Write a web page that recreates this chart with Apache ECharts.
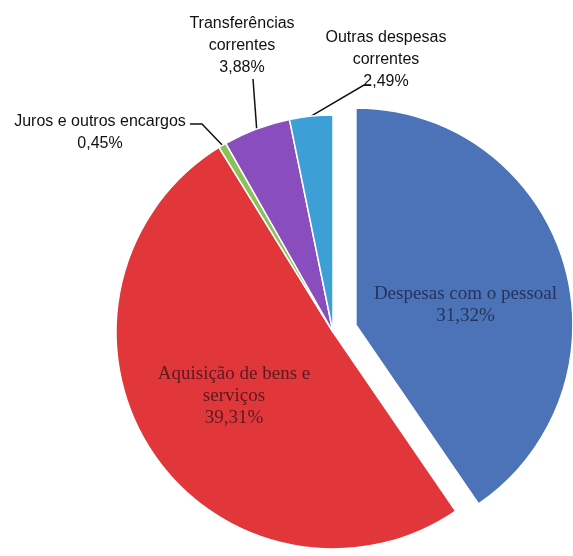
<!DOCTYPE html>
<html>
<head>
<meta charset="utf-8">
<script src="https://cdn.jsdelivr.net/npm/echarts@6/dist/echarts.min.js"></script>
<style>
  html, body { margin: 0; padding: 0; background: #fff; }
  #chart { width: 573px; height: 556px; }
</style>
</head>
<body>
<div id="chart"></div>
<script>
// categorias (com as quebras de linha do rótulo) e percentagens
const categories = [
  'Despesas com o pessoal',
  'Aquisição de bens e\nserviços',
  'Juros e outros encargos',
  'Transferências\ncorrentes',
  'Outras despesas\ncorrentes'
];
const values = [31.32, 39.31, 0.45, 3.88, 2.49];
const colors = ['#4c72b7', '#e1373b', '#8cc05a', '#8a4dbd', '#3c9fd6'];

// posição dos rótulos (x, y do centro do bloco) e pontos da linha de ligação
const labelPos = [
  null,
  { x: 234, y: 396 },
  { x: 100, y: 133, line: [[202, 124], [190, 124]] },
  { x: 242, y: 46, line: [[253, 79]] },
  { x: 386, y: 60, line: [[364, 85], [371, 85]] }
];

const fmt = v => v.toFixed(2).replace('.', ',') + '%';

const myChart = echarts.init(document.getElementById('chart'));

const insideLabel = (color) => ({
  position: 'inside',
  color: color,
  fontFamily: 'Liberation Serif',
  fontSize: 19,
  lineHeight: 22
});
const outsideLabel = {
  position: 'outside',
  color: '#111',
  fontFamily: 'Liberation Sans Narrow, Liberation Sans',
  fontSize: 16,
  lineHeight: 22
};

const data = categories.map((name, i) => {
  const item = { name: name, value: values[i], itemStyle: { color: colors[i] } };
  if (i === 0) {
    // fatia destacada: rótulo deslocado para baixo
    item.selected = true;
    item.label = Object.assign(insideLabel('#23345f'), { offset: [3, 13] });
    item.select = { label: { offset: [3, 13] } };
    item.labelLine = { show: false };
  } else if (i === 1) {
    item.label = insideLabel('#5a1a1f');
    item.labelLine = { show: false };
  } else {
    item.label = outsideLabel;
    item.labelLine = { show: true, lineStyle: { color: '#111', width: 1.5 } };
  }
  return item;
});

myChart.setOption({
  backgroundColor: '#fff',
  animation: false,
  series: [{
    type: 'pie',
    center: [333, 332],
    radius: 217,
    startAngle: 90,
    clockwise: true,
    selectedMode: 'single',
    selectedOffset: 24,
    avoidLabelOverlap: false,
    itemStyle: { borderColor: '#fff', borderWidth: 1.5 },
    emphasis: { disabled: true },
    label: {
      formatter: p => p.name + '\n' + fmt(p.value)
    },
    labelLayout: function (params) {
      const pos = labelPos[params.dataIndex];
      if (!pos) return {};
      const out = { x: pos.x, y: pos.y, align: 'center', verticalAlign: 'middle' };
      if (pos.line && params.labelLinePoints) {
        out.labelLinePoints = [params.labelLinePoints[0]].concat(pos.line);
      }
      return out;
    },
    data: data
  }]
});
</script>
</body>
</html>
